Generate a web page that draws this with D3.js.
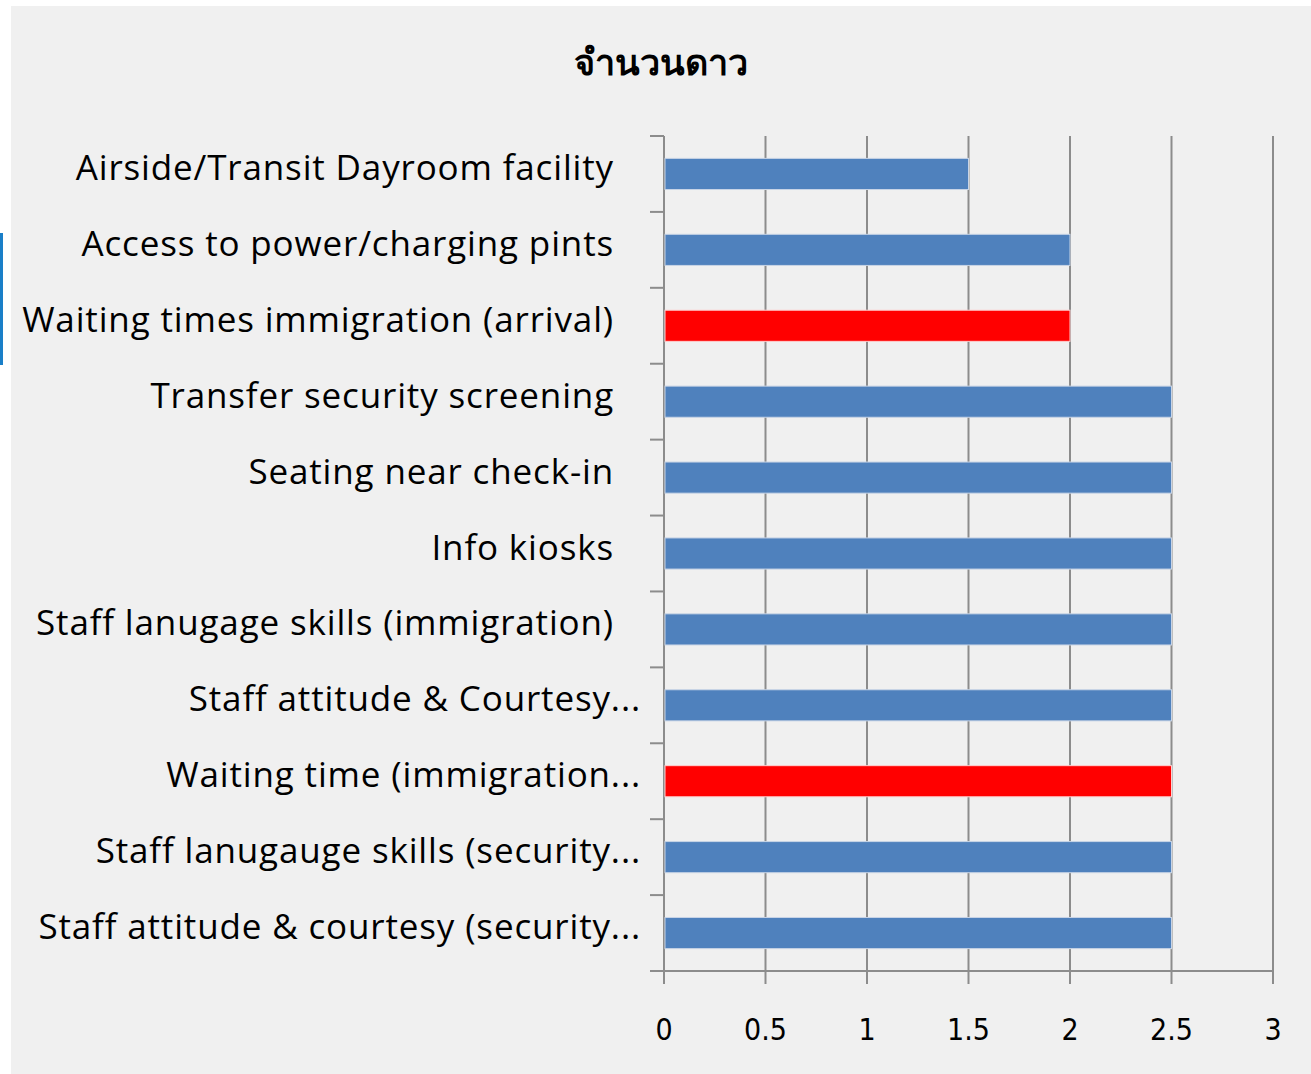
<!DOCTYPE html>
<html>
<head>
<meta charset="utf-8">
<script src="https://d3js.org/d3.v7.min.js"></script>
<style>
    body { margin: 0; background: #ffffff; }
    svg { display: block; }
</style>
</head>
<body>
<script>
// ข้อมูลแผนภูมิ
const categories = [
    'Airside/Transit Dayroom facility',
    'Access to power/charging pints',
    'Waiting times immigration (arrival)',
    'Transfer security screening',
    'Seating near check-in',
    'Info kiosks',
    'Staff lanugage skills (immigration)',
    'Staff attitude & Courtesy...',
    'Waiting time (immigration...',
    'Staff lanugauge skills (security...',
    'Staff attitude & courtesy (security...'
];
const starValues = [1.5, 2, 2, 2.5, 2.5, 2.5, 2.5, 2.5, 2.5, 2.5, 2.5];
const highlighted = [false, false, true, false, false, false, false, false, true, false, false];
const xTicks = [0, 0.5, 1, 1.5, 2, 2.5, 3];
const chartTitle = 'จำนวนดาว';

const width = 1311, height = 1074;
const margin = {top: 136, right: 38, bottom: 103, left: 664};

const svg = d3.select('body')
    .append('svg')
    .attr('width', width)
    .attr('height', height);

// 背景 panel
svg.append('rect')
    .attr('x', 11).attr('y', 6)
    .attr('width', width - 11).attr('height', height - 6)
    .attr('fill', '#f0f0f0');
svg.append('rect')
    .attr('x', 0).attr('y', 233)
    .attr('width', 3).attr('height', 132)
    .attr('fill', '#1a7fc8');

const x = d3.scaleLinear()
    .domain([0, 3])
    .range([margin.left, width - margin.right]);
const y = d3.scaleBand()
    .domain(categories)
    .range([margin.top, height - margin.bottom])
    .paddingInner(0.59)
    .paddingOuter(0.295);

const grid = '#8c8c8c';
const plotTop = margin.top, plotBottom = height - margin.bottom;

// 网格线
svg.append('g')
    .selectAll('line')
    .data(xTicks)
    .join('line')
    .attr('x1', d => x(d)).attr('x2', d => x(d))
    .attr('y1', plotTop).attr('y2', plotBottom + 13)
    .attr('stroke', grid)
    .attr('stroke-width', 2);

// y 轴分隔刻度
const bounds = d3.range(categories.length + 1).map(i => plotTop + i * y.step());
svg.append('g')
    .selectAll('line')
    .data(bounds)
    .join('line')
    .attr('x1', margin.left - 14).attr('x2', margin.left)
    .attr('y1', d => d).attr('y2', d => d)
    .attr('stroke', grid)
    .attr('stroke-width', 2);

svg.append('line')
    .attr('x1', margin.left - 14).attr('x2', x(3))
    .attr('y1', plotBottom).attr('y2', plotBottom)
    .attr('stroke', grid)
    .attr('stroke-width', 2);

// 柱子
svg.append('g')
    .selectAll('rect')
    .data(categories)
    .join('rect')
    .attr('x', x(0) + 1)
    .attr('y', d => y(d))
    .attr('width', (d, i) => x(starValues[i]) - x(0) - 1)
    .attr('height', y.bandwidth())
    .attr('fill', (d, i) => highlighted[i] ? '#ff0000' : '#4f81bd')
    .attr('stroke', (d, i) => highlighted[i] ? '#ffd0d0' : '#c8d4e6')
    .attr('stroke-width', 1);

// 类别标签
svg.append('g')
    .selectAll('text')
    .data(categories)
    .join('text')
    .attr('x', d => d.endsWith('...') ? 641 : 614)
    .attr('y', d => y(d) + y.bandwidth() / 2 + 6)
    .attr('text-anchor', 'end')
    .style('font-family', '"Open Sans", "Noto Sans", sans-serif')
    .style('font-size', '35px')
    .style('letter-spacing', '0.85px')
    .style('fill', '#000000')
    .text(d => d);

// x 轴标签
svg.append('g')
    .selectAll('text')
    .data(xTicks)
    .join('text')
    .attr('x', d => x(d))
    .attr('y', 1040)
    .attr('text-anchor', 'middle')
    .style('font-family', '"DejaVu Sans Condensed", "Roboto", sans-serif')
    .style('font-size', '30px')
    .style('font-stretch', 'condensed')
    .style('fill', '#000000')
    .text(d => d);

// 标题
svg.append('text')
    .attr('x', 661)
    .attr('y', 75)
    .attr('text-anchor', 'middle')
    .style('font-family', '"Noto Sans", "DejaVu Sans", sans-serif')
    .style('font-weight', 'bold')
    .style('font-size', '36px')
    .style('fill', '#000000')
    .text(chartTitle);
</script>
</body>
</html>
